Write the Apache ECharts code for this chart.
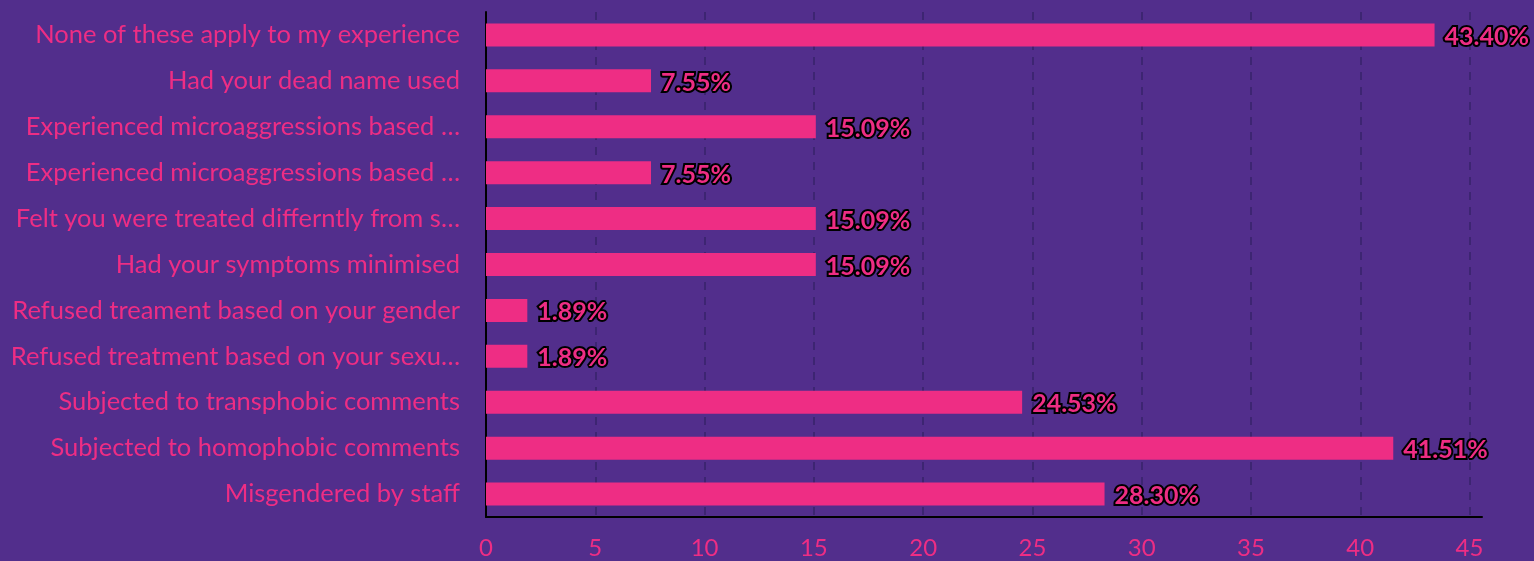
<!DOCTYPE html>
<html>
<head>
<meta charset="utf-8">
<script src="https://cdn.jsdelivr.net/npm/echarts@6/dist/echarts.min.js"></script>
<style>
html,body{margin:0;padding:0;background:#522e8c;}
#chart{width:1534px;height:561px;}
</style>
</head>
<body>
<div id="chart"></div>
<script>
const categories = [
  "None of these apply to my experience",
  "Had your dead name used",
  "Experienced microaggressions based …",
  "Experienced microaggressions based …",
  "Felt you were treated differntly from s…",
  "Had your symptoms minimised",
  "Refused treament based on your gender",
  "Refused treatment based on your sexu…",
  "Subjected to transphobic comments",
  "Subjected to homophobic comments",
  "Misgendered by staff"
];
const values = [43.40, 7.55, 15.09, 7.55, 15.09, 15.09, 1.89, 1.89, 24.53, 41.51, 28.30];
const xTicks = [0, 5, 10, 15, 20, 25, 30, 35, 40, 45];

const pink = '#ee2d84';
const chart = echarts.init(document.getElementById('chart'));
chart.setOption({
  backgroundColor: '#522e8c',
  animation: false,
  grid: {left: 486, right: 52, top: 12, bottom: 44, containLabel: false},
  xAxis: {
    type: 'value',
    min: 0,
    max: 45.57,
    interval: 5,
    axisLine: {show: true, lineStyle: {color: '#000', width: 2}},
    axisTick: {show: false},
    axisLabel: {
      color: pink, fontFamily: 'Lato', fontSize: 24, margin: 19,
      showMaxLabel: false,
      formatter: v => xTicks.includes(v) ? String(v) : ''
    },
    splitLine: {show: true, showMaxLine: false, lineStyle: {color: '#3d2572', width: 2, type: [8, 7]}}
  },
  yAxis: {
    type: 'category',
    data: categories,
    inverse: true,
    axisLine: {show: true, lineStyle: {color: '#000', width: 2}},
    axisTick: {show: false},
    axisLabel: {color: pink, fontFamily: 'Lato', fontSize: 25.5, margin: 26},
    splitLine: {show: false}
  },
  series: [{
    type: 'bar',
    data: values,
    barWidth: 23,
    itemStyle: {color: pink},
    label: {
      show: true,
      position: 'right',
      distance: 10,
      offset: [0, 2],
      formatter: p => p.value.toFixed(2) + '%',
      color: pink,
      fontFamily: 'Lato',
      fontWeight: 'bold',
      fontSize: 25,
      textBorderColor: '#000',
      textBorderWidth: 4
    }
  }]
});
</script>
</body>
</html>
